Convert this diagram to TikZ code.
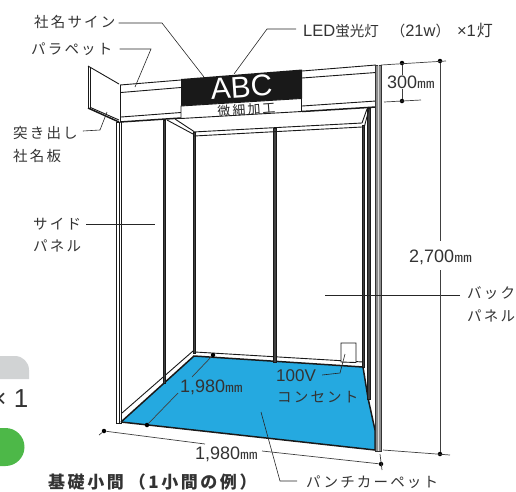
\documentclass[tikz,border=0pt]{standalone}
\usepackage{fontspec}
\setmainfont{Liberation Sans}
\newfontfamily\jp[LetterSpace=15]{Noto Sans CJK JP}
\newfontfamily\jpn{Noto Sans CJK JP}
\usetikzlibrary{positioning}
\definecolor{carpet}{HTML}{25A9E0}
\definecolor{inktext}{HTML}{333333}
\definecolor{tabgrey}{HTML}{D1D3D4}
\definecolor{tabgreen}{HTML}{4DB848}
\tikzset
{
    lbl/.style = {inner sep=0pt, text=inktext, font=\fontsize{14.5}{17}\selectfont\jp, anchor=west, align=left},
    dimtxt/.style = {inner sep=0pt, text=inktext, font=\fontsize{18}{20}\selectfont, anchor=west},
    leader/.style = {draw=black!85, line width=0.6pt},
    dimline/.style = {draw=black!75, line width=0.7pt},
    dimdot/.style = {circle, fill=black, inner sep=0pt, minimum size=4.5pt},
    frame/.style = {draw=black!90, line width=0.9pt},
    heavy/.style = {draw=black!90, line width=1.5pt},
    post/.style = {draw=black!90, fill=black!75, line width=0.5pt}
}
\newcommand{\mmunit}{\scalebox{1.35}[1]{\jpn\fontsize{13}{13}\selectfont ㎜}}
\begin{document}
\begin{tikzpicture}[x=1pt,y=-1pt]
		\useasboundingbox (0,0) rectangle (516,491);
		
		\fill[tabgrey] (0,356) -- (15,356) arc (-90:0:14) -- (29,379) -- (0,379) -- cycle;
		\node[inner sep=0pt, anchor=east, text=inktext, font=\fontsize{26}{26}\selectfont] (times) at (28.5,398.5) {× 1};
		\fill[tabgreen] (0,428) -- (5.5,428) arc (-90:90:19) -- (0,466) -- cycle;
		
		\fill[carpet] (121,422) -- (194,356) -- (363,367) -- (368,398) -- (375,430) -- (375,450) -- cycle;
		\draw[heavy] (121,422) -- (375,450);
		\draw[heavy] (121,422) -- (194,356) -- (363,367) -- (368,398) -- (375,430) -- (375,450);
		\draw[frame] (122,413) -- (193,351);
		\draw[frame] (195,352) -- (363,362);
		
		\draw[post] (163,120) rectangle (165.5,383);
		\draw[post] (193,132) rectangle (195,353);
		\draw[post] (273.5,128) rectangle (276.5,362);
		\draw[post] (362,125) rectangle (364.5,367);
		\draw[post] (367,108) rectangle (370,399);
		
		\draw[frame] (167,120) -- (193,134);
		\draw[frame] (175,119) -- (194,131.5);
		\draw[frame] (193,132) -- (362,123);
		\draw[frame] (194,136) -- (362,127);
		\draw[frame] (362,123) -- (367,109);
		\draw[frame] (364,128) -- (369,109);
		
		\draw[frame] (120,85) -- (181,80);
		\draw[frame] (121,92.5) -- (181,87.5);
		\draw[frame] (121,117) -- (181,112.5);
		\draw[heavy] (120,122) -- (181,118);
		\draw[frame] (302,71) -- (376,65);
		\draw[frame] (302,78) -- (376,72.5);
		\draw[frame] (302,106) -- (376,101);
		\draw[heavy] (302,111.5) -- (376,107);
		\draw[frame] (120,85) -- (120,122);
		
		\draw[frame] (88,66) -- (119,84);
		\draw[frame] (88,66) -- (88,108);
		\draw[frame] (90.5,67) -- (90.5,109);
		\draw[heavy] (88,108) -- (119,122);
		\draw[frame] (90.5,107.5) -- (119,120);
		
		\draw[frame, fill=white] (116,122) rectangle (119.3,423);
		\draw[frame] (121.7,122) -- (121.7,423);
		\draw[frame] (116,423) -- (121.7,423);
		\draw[draw=black!80, fill=black!45, line width=0.8pt] (375,65) rectangle (381.5,451);
		\fill[black!15] (377.5,65) rectangle (379,451);
		
		\draw[frame, fill=white] (341,343) -- (356,343) -- (356,362.5) -- (341,362) -- cycle;
		
		\fill[black!90] (181,79) -- (302,69.5) -- (302,98.5) -- (181,106) -- cycle;
		\draw[frame, fill=white] (181,106) -- (301.5,98.5) -- (301.5,111.5) -- (181,118.5) -- cycle;
		\node[inner sep=0pt, text=white, rotate=4, font=\fontsize{30}{30}\selectfont] (abc) at (241.5,87) {ABC};
		\node[inner sep=0pt, text=black!85, rotate=4, font=\fontsize{13}{13}\selectfont\jp] (maker) at (246.5,109.5) {微細加工};
		
		\node[lbl] (signname) at (34,22) {社名サイン};
		\coordinate (signbend) at (162,23);
		\coordinate (signend) at (204,77);
		\draw[leader] (signname.east) ++(3,1) -- (signbend) -- (signend);
		
		\node[lbl] (parapet) at (31,49) {パラペット};
		\coordinate (parabend) at (151,49);
		\coordinate (paraend) at (135,87);
		\draw[leader] (parapet.east) ++(7,0) -- (parabend) -- (paraend);
		
		\node[lbl] (board) at (13,133) {突き出し};
		\node[lbl] (board2) at (13,156) {社名板};
		\coordinate (boardbend) at (100,130);
		\coordinate (boardend) at (107,112);
		\draw[leader] (board.east) ++(5,-2) -- (boardbend) -- (boardend);
		
		\node[lbl, font=\fontsize{16.5}{17}\selectfont] (led) at (303,31) {LED{\jpn\fontsize{14.5}{15}\selectfont 蛍光灯\hspace{12pt}（}21w{\jpn\fontsize{14.5}{15}\selectfont ）\hspace{7pt}}×1\hspace{1pt}{\jpn\fontsize{16}{16}\selectfont 灯}};
		\coordinate (ledbend) at (267,29);
		\coordinate (ledend) at (234,74);
		\draw[leader] (led.west) ++(-7,-2) -- (ledbend) -- (ledend);
		
		\node[lbl] (side) at (33,224) {サイド};
		\node[lbl] (side2) at (33,246) {パネル};
		\coordinate (sideend) at (155,224);
		\draw[leader] (side.east) ++(5,0) -- (sideend);
		
		\node[lbl] (back) at (467,293) {バック};
		\node[lbl] (back2) at (467,316) {パネル};
		\coordinate (backend) at (325,295);
		\draw[leader] (back.west) ++(-7,2) -- (backend);
		
		\node[lbl] (punch) at (306,482) {パンチカーペット};
		\coordinate (punchbend) at (280,481);
		\coordinate (punchend) at (261,412);
		\draw[leader] (punch.west) ++(-9,-1) -- (punchbend) -- (punchend);
		
		\node[lbl, font=\fontsize{17}{18}\selectfont\bfseries\jp] (title) at (48,482) {基礎小間\hspace{5pt}（1小間の例）};
		
		\node[dimtxt, font=\fontsize{17}{18}\selectfont] (volt) at (276,376) {100V};
		\node[lbl] (outlet) at (277,397) {コンセント};
		\coordinate (voltbend) at (340,373);
		\coordinate (voltend) at (345,354);
		\draw[leader] (volt.east) ++(6,-1) -- (voltbend) -- (voltend);
		
		\node[dimdot] (topa) at (402,63) {};
		\node[dimdot] (topb) at (402,101) {};
		\node[dimtxt] (h300) at (387,82) {300\mmunit};
		\draw[dimline] (topa) -- (h300.north -| topa);
		\draw[dimline] (h300.south -| topb) -- (topb);
		\coordinate (beamr) at (384,102);
		\coordinate (beamf) at (421,100);
		\draw[dimline] (beamr) -- (beamf);
		
		\node[dimdot] (hgta) at (440,61) {};
		\node[dimdot] (hgtb) at (440,454) {};
		\node[dimtxt] (h2700) at (409,257) {2,700\mmunit};
		\coordinate (hgtl) at (381,65);
		\coordinate (hgtr) at (446,61);
		\coordinate (lowl) at (383,450);
		\coordinate (lowr) at (450,455);
		\draw[dimline] (hgta) -- (440,241);
		\draw[dimline] (440,270) -- (hgtb);
		\draw[dimline] (hgtl) -- (hgtr);
		\draw[dimline] (lowl) -- (lowr);
		
		\node[dimdot] (deptha) at (213,355) {};
		\node[dimdot] (depthb) at (147,425) {};
		\node[dimtxt] (d1980) at (180,387) {1,980\mmunit};
		\draw[dimline] (deptha) -- (192,377);
		\draw[dimline] (178,393) -- (depthb);
		
		\node[dimdot] (widtha) at (104,431) {};
		\node[dimdot] (widthb) at (381,464) {};
		\node[dimtxt] (w1980) at (195,454) {1,980\mmunit};
		\draw[dimline] (widtha) -- (205,444);
		\draw[dimline] (262,451) -- (widthb);
		\draw[dimline] (99,435) -- (widtha);
		\draw[dimline] (380,454) -- (382,470);
\end{tikzpicture}
\end{document}
